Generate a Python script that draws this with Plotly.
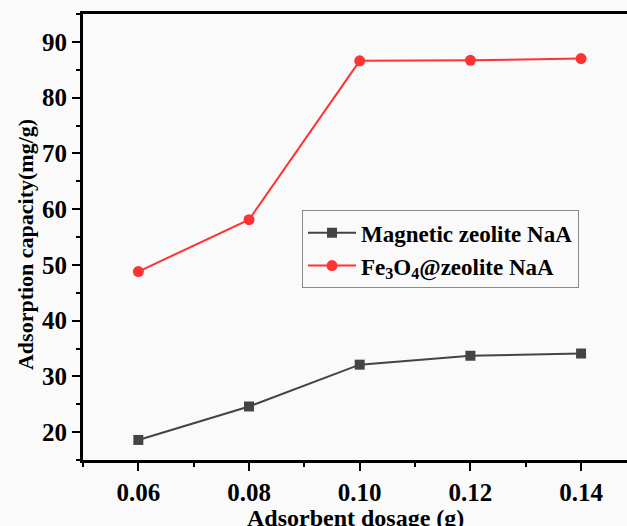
import plotly.graph_objects as go

dosage = [0.06, 0.08, 0.10, 0.12, 0.14]
magnetic_zeolite = [18.6, 24.6, 32.1, 33.7, 34.1]
fe3o4_zeolite = [48.8, 58.1, 86.6, 86.7, 87.0]
x_ticks = [0.06, 0.08, 0.10, 0.12, 0.14]
x_tick_labels = ["0.06", "0.08", "0.10", "0.12", "0.14"]
y_ticks = [20, 30, 40, 50, 60, 70, 80, 90]
x_title = "Adsorbent dosage (g)"
y_title = "Adsorption capacity(mg/g)"

FONT = "Liberation Serif, Times New Roman, serif"
BG = "#fafafa"

fig = go.Figure()
fig.add_trace(go.Scatter(
    x=dosage, y=magnetic_zeolite, mode="lines+markers",
    name="Magnetic zeolite NaA",
    line=dict(color="#444444", width=2),
    marker=dict(symbol="square", size=10, color="#444444"),
))
fig.add_trace(go.Scatter(
    x=dosage, y=fe3o4_zeolite, mode="lines+markers",
    name="Fe<sub>3</sub>O<sub>4</sub>@zeolite NaA",
    line=dict(color="#ff3333", width=2),
    marker=dict(symbol="circle", size=11, color="#ff3333"),
))

tick_font = dict(family=FONT, size=25, color="black", weight="bold")

fig.update_layout(
    width=627, height=526,
    margin=dict(l=83, r=0, t=14, b=66, autoexpand=False),
    paper_bgcolor=BG, plot_bgcolor=BG,
    font=dict(family=FONT, size=22, color="black"),
    showlegend=True,
    legend=dict(
        x=0.4026, y=0.560, xanchor="left", yanchor="top",
        bgcolor=BG, bordercolor="#888888", borderwidth=1,
        font=dict(family=FONT, size=23, color="black", weight="bold"),
        tracegroupgap=0, itemwidth=48,
    ),
    xaxis=dict(
        range=[0.05, 0.1483], tickvals=x_ticks, ticktext=x_tick_labels,
        showgrid=False, zeroline=False,
        showline=True, linecolor="black", linewidth=3, mirror=True,
        ticks="outside", ticklen=8, tickwidth=2, tickcolor="black",
        tickfont=tick_font,
        minor=dict(dtick=0.01, tick0=0.05, ticks="outside", ticklen=4, tickwidth=2, tickcolor="black"),
        automargin=False,
    ),
    yaxis=dict(
        range=[15, 95], tickvals=y_ticks,
        showgrid=False, zeroline=False,
        showline=True, linecolor="black", linewidth=3, mirror=False,
        ticks="outside", ticklen=8, tickwidth=2, tickcolor="black",
        tickfont=tick_font,
        minor=dict(dtick=5, tick0=15, ticks="outside", ticklen=4, tickwidth=2, tickcolor="black"),
        automargin=False,
    ),
    annotations=[
        dict(
            text=x_title, xref="paper", yref="paper", x=0.5, y=0,
            xanchor="center", yanchor="top", yshift=-43, showarrow=False,
            font=dict(family=FONT, size=24, color="black", weight="bold"),
        ),
        dict(
            text=y_title, xref="paper", yref="paper", x=-0.1066, y=0.482,
            xanchor="center", yanchor="middle", textangle=-90, showarrow=False,
            font=dict(family=FONT, size=22, color="black", weight="bold"),
        ),
    ],
)

fig.write_html("out.html")
